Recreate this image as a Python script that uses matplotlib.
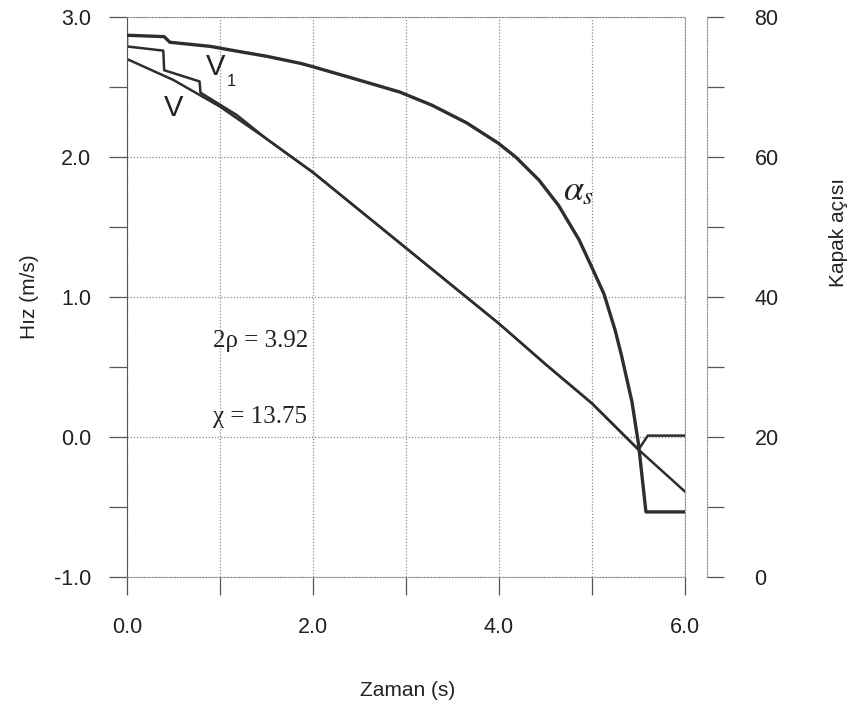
import numpy as np
import matplotlib
matplotlib.use("Agg")
import matplotlib.pyplot as plt
from matplotlib.ticker import MultipleLocator

# V : hiz (m/s)
t_v = [0.0, 0.5, 1.0, 1.5, 2.0, 2.5, 3.0, 3.5, 4.0, 4.5, 5.0, 5.5, 6.0]
v = [2.70, 2.55, 2.36, 2.13, 1.89, 1.62, 1.35, 1.08, 0.81, 0.52, 0.24, -0.09, -0.39]

# V1 : stepped, merges with V, goes to zero at the end
t_v1 = [0.0, 0.0, 0.39, 0.40, 0.78, 0.79, 1.18, 1.5, 2.0, 2.5, 3.0, 3.5, 4.0, 4.5, 5.0, 5.5, 5.6, 6.0]
v1 = [2.87, 2.79, 2.76, 2.62, 2.54, 2.46, 2.30, 2.13, 1.89, 1.62, 1.35, 1.08, 0.81, 0.52, 0.24, -0.09, 0.01, 0.01]

# alpha_s : kapak acisi (derece)
t_a = [0.0, 0.40, 0.46, 0.9, 1.15, 1.5, 1.86, 2.0, 2.39, 2.93, 3.28, 3.65, 3.99, 4.18, 4.43, 4.64,
       4.86, 5.0, 5.13, 5.25, 5.32, 5.43, 5.50, 5.58, 6.0]
alpha = [77.4, 77.2, 76.4, 75.8, 75.2, 74.4, 73.4, 72.9, 71.4, 69.3, 67.4, 64.9, 62.0, 60.0, 56.7, 53.1,
         48.2, 44.2, 40.4, 35.2, 31.5, 25.0, 19.0, 9.3, 9.3]

x_ticks = [0, 1, 2, 3, 4, 5, 6]
x_labels = ['0.0', '', '2.0', '', '4.0', '', '6.0']
y_ticks = [-1, 0, 1, 2, 3]
y_labels = ['-1.0', '0.0', '1.0', '2.0', '3.0']
y2_ticks = [0, 20, 40, 60, 80]

plt.rcParams['font.family'] = ['Liberation Sans', 'DejaVu Sans']
line_c = '#2e2e2e'
grid_c = '#8c8c8c'

fig = plt.figure(figsize=(8.57, 7.10), dpi=100)
ax = fig.add_axes([0.1482, 0.1873, 0.6511, 0.7887])
ax.set_xlim(0, 6)
ax.set_ylim(-1, 3)
ax.set_xticks(x_ticks)
ax.set_xticklabels(x_labels)
ax.set_yticks(y_ticks)
ax.set_yticklabels(y_labels)
ax.yaxis.set_minor_locator(MultipleLocator(0.5))
ax.grid(True, which='major', ls=(0, (1, 1.5)), color=grid_c, lw=0.9)
ax.tick_params(axis='both', which='both', direction='out', length=13, width=0.9,
               color='#555555', labelsize=15.5, labelcolor='#222222')
ax.tick_params(axis='y', pad=13)
ax.tick_params(axis='x', pad=16)
for s in ['top', 'right', 'bottom']:
    ax.spines[s].set_linestyle((0, (1, 1.5)))
    ax.spines[s].set_color(grid_c)
ax.spines['left'].set_color('#555555')

ax.plot(t_v, v, color=line_c, lw=1.8)
ax.plot(t_v1, v1, color=line_c, lw=1.8)

ax2 = ax.twinx()
ax2.set_ylim(0, 80)
ax2.set_yticks(y2_ticks)
ax2.yaxis.set_minor_locator(MultipleLocator(10))
ax2.spines['right'].set_position(('outward', 16))
ax2.spines['right'].set_linestyle((0, (1, 1.5)))
ax2.spines['right'].set_color(grid_c)
for s in ['top', 'left', 'bottom']:
    ax2.spines[s].set_visible(False)
ax2.tick_params(axis='y', which='both', direction='out', length=12, width=0.9,
                color='#555555', labelsize=15.5, labelcolor='#222222', pad=22)
ax2.plot(t_a, alpha, color=line_c, lw=2.4)

# curve labels
ax.text(0.50, 2.35, 'V', fontsize=21, ha='center', va='center', color='#222222')
ax.text(0.95, 2.64, 'V', fontsize=21, ha='center', va='center', color='#222222')
ax.text(1.12, 2.54, '1', fontsize=12, ha='center', va='center', color='#222222')
ax.text(4.86, 1.76, r'$\alpha_s$', fontsize=26, ha='center', va='center',
        math_fontfamily='stix', color='#222222')

ax.text(0.92, 0.64, '2ρ = 3.92', fontsize=18, family='Liberation Serif',
        ha='left', va='baseline', color='#222222')
ax.text(0.92, 0.10, 'χ = 13.75', fontsize=18, family='Liberation Serif',
        ha='left', va='baseline', color='#222222')

fig.text(408 / 857, 1 - 690 / 710, 'Zaman (s)', fontsize=15, ha='center', va='center', color='#222222')
fig.text(30 / 857, 1 - 297 / 710, 'Hız (m/s)', fontsize=15, rotation=90,
         ha='center', va='center', color='#222222')
fig.text(838 / 857, 1 - 232 / 710, 'Kapak açısı', fontsize=15, rotation=90,
         ha='center', va='center', color='#222222')

fig.savefig('out.png', dpi=100)
